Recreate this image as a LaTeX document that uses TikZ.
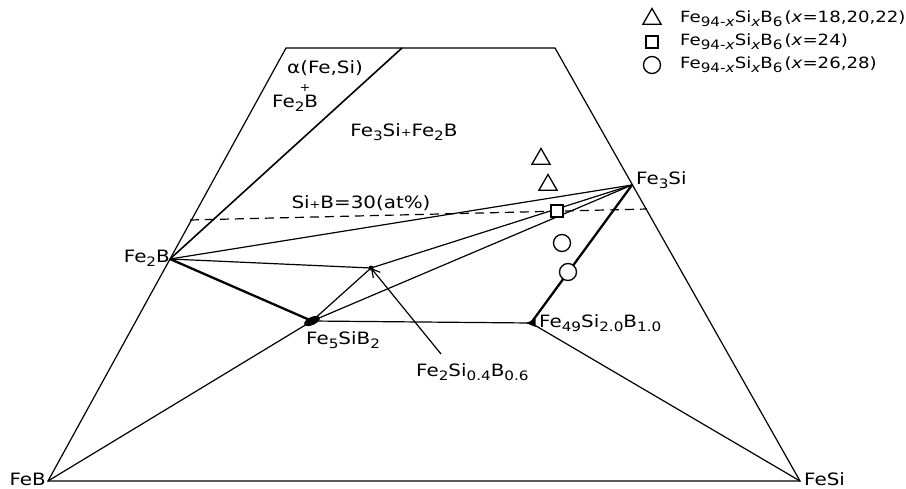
\documentclass[tikz,border=0pt]{standalone}
\usepackage{fontspec}
\setmainfont{DejaVu Sans}[FakeStretch=1.17]
\usetikzlibrary{shapes.geometric,arrows.meta}
\newcommand{\sbs}[1]{\raisebox{-0.45ex}{\fontsize{13}{14}\selectfont #1}}
\newcommand{\splus}{{\fontsize{11}{12}\selectfont +}}
\begin{document}
\begin{tikzpicture}[x=1pt,y=-1pt,
  every node/.style={font=\fontsize{17}{19}\selectfont, inner sep=1pt},
  thinline/.style={line width=1.2pt},
  medline/.style={line width=1.6pt},
  thickline/.style={line width=2.3pt},
  tri/.style={draw, line width=1.3pt, regular polygon, regular polygon sides=3, minimum size=21pt, inner sep=0pt},
  sqr/.style={draw, line width=1.6pt, rectangle, minimum size=12pt, inner sep=0pt},
  circ/.style={draw, line width=1.3pt, circle, fill=white, minimum size=17pt, inner sep=0pt},
  lbl/.style={anchor=west, font=\fontsize{15.5}{18}\selectfont}
]
\useasboundingbox (0,0) rectangle (906,488);
% vertices
\coordinate (FeB) at (48,481);
\coordinate (FeSi) at (800,481);
\coordinate (TL) at (286,48);
\coordinate (TR) at (555,48);
\coordinate (A) at (402,48);
\coordinate (Fe2B) at (170,259);
\coordinate (Fe3Si) at (632,185);
\coordinate (F5) at (312,321);
\coordinate (F2) at (371,268);
\coordinate (F49) at (531,323);
\coordinate (DL) at (190,220);
\coordinate (DR) at (647,209);
\coordinate (AT) at (441,354);
% frame
\draw[thinline] (FeB) -- (TL) -- (TR) -- (FeSi) -- cycle;
\draw[medline] (A) -- (Fe2B);
% tie lines
\draw[thinline] (Fe2B) -- (Fe3Si);
\draw[thinline] (Fe2B) -- (F2) -- (Fe3Si);
\draw[thickline] (Fe2B) -- (F5);
\draw[thinline] (F5) -- (F2);
\draw[thinline] (FeB) -- (F5) -- (Fe3Si);
\draw[thinline] (F5) -- (F49) -- (FeSi);
\draw[thickline] (Fe3Si) -- (F49);
\draw[thinline, dash pattern=on 9pt off 6pt] (DL) -- (DR);
\draw[thinline, -{Straight Barb[length=8pt,width=9pt]}] (AT) -- (F2);
% points
\node[ellipse, fill, minimum width=17pt, minimum height=8pt, inner sep=0pt, rotate=25] (b5) at (F5) {};
\node[isosceles triangle, fill, shape border rotate=180, minimum height=8pt, minimum width=8pt, inner sep=0pt] (b49) at ([xshift=2pt]F49) {};
\node[circle, fill, minimum size=5pt, inner sep=0pt] (b2) at (F2) {};
% data points
\node[tri] (d1) at (541,159) {};
\node[tri] (d2) at (548,185) {};
\node[sqr, fill=white] (d3) at (557,211) {};
\node[circ] (d4) at (562,243) {};
\node[circ] (d5) at (568,272) {};
% labels
\node[anchor=west] (lFe3Si) at (635,180) {Fe\sbs{3}Si};
\node[anchor=east] (lFe2B) at (171,258) {Fe\sbs{2}B};
\node[anchor=west] (lF5) at (305,340) {Fe\sbs{5}SiB\sbs{2}};
\node[anchor=west] (lF2) at (415,372) {Fe\sbs{2}Si\sbs{0.4}B\sbs{0.6}};
\node[anchor=west] (lF49) at (538,323) {Fe\sbs{49}Si\sbs{2.0}B\sbs{1.0}};
\node[anchor=east] (lFeB) at (47,479) {FeB};
\node[anchor=west] (lFeSi) at (803,479) {FeSi};
\node[anchor=west] (la) at (286,68) {α(Fe,Si)};
\node (lplus) at (305,88) {\splus};
\node[anchor=west] (lFe2Bb) at (271,103) {Fe\sbs{2}B};
\node (lreg) at (404,132) {Fe\sbs{3}Si\splus Fe\sbs{2}B};
\node (lSiB) at (361,203) {Si\splus B=30(at\%)};
% legend
\node[tri] (s1) at (652,19) {};
\node[sqr] (s2) at (652,42) {};
\node[circ] (s3) at (652,65) {};
\node[lbl] (t1) at (679,19) {Fe\sbs{94-\textit{x}}Si\sbs{\textit{x}}B\sbs{6}\hspace{2pt}(\textit{x}=18,20,22)};
\node[lbl] (t2) at (679,42) {Fe\sbs{94-\textit{x}}Si\sbs{\textit{x}}B\sbs{6}\hspace{2pt}(\textit{x}=24)};
\node[lbl] (t3) at (679,65) {Fe\sbs{94-\textit{x}}Si\sbs{\textit{x}}B\sbs{6}\hspace{2pt}(\textit{x}=26,28)};
\end{tikzpicture}
\end{document}
